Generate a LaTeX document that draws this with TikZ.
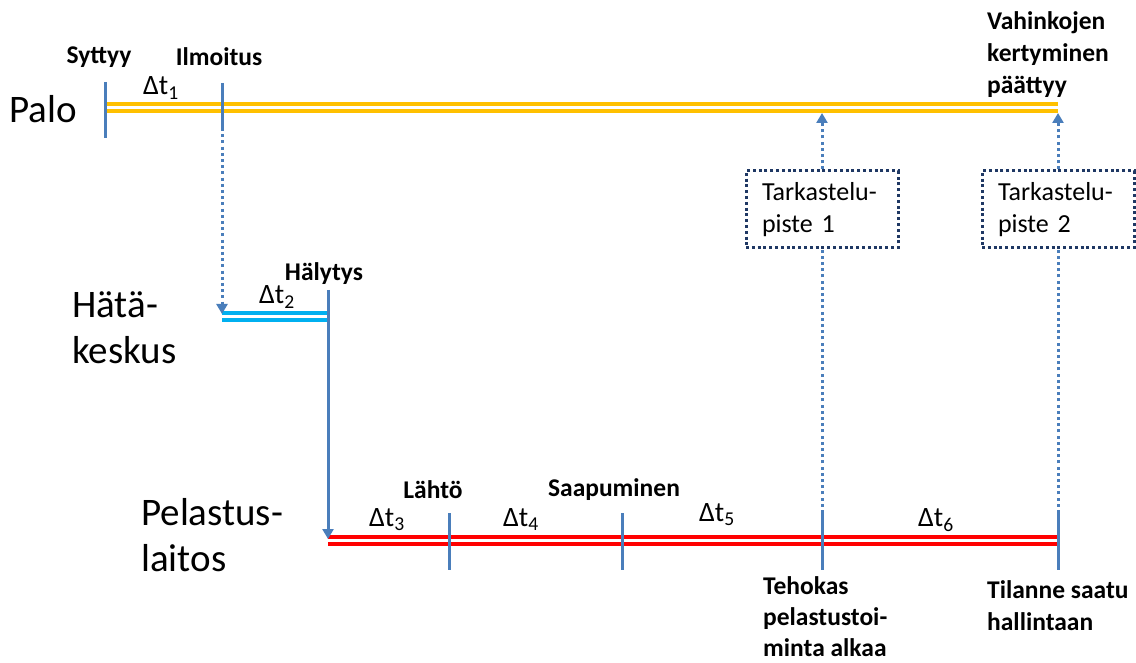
\documentclass[tikz,border=0pt]{standalone}
\usepackage{fontspec}
\setmainfont{Carlito}
\usetikzlibrary{arrows.meta}
\definecolor{ybar}{HTML}{FFC000}
\definecolor{bbar}{HTML}{00B0F0}
\definecolor{rbar}{HTML}{FF0000}
\definecolor{tickblue}{HTML}{4A7EBB}
\definecolor{navy}{HTML}{1F3864}
\begin{document}
\begin{tikzpicture}[x=1pt,y=-1pt,
  bar/.style={double=white, line width=3.6pt, double distance=3.4pt},
  tickln/.style={draw=tickblue, line width=3pt},
  dotln/.style={draw=tickblue, line width=3pt, dash pattern=on 3pt off 3.2pt},
  tipx/.style={-{Triangle[width=11pt,length=10pt]}},
  evt/.style={font=\fontsize{25.5}{32}\selectfont\bfseries, inner sep=0pt, align=left},
  rowlbl/.style={font=\fontsize{39}{46}\selectfont, inner sep=0pt, align=left, anchor=west},
  dt/.style={font=\fontsize{28}{30}\selectfont, inner sep=0pt},
  tbox/.style={draw=navy, line width=3pt, dash pattern=on 3pt off 2.8pt,
    minimum width=152pt, minimum height=77pt, text width=120pt, align=left,
    inner xsep=16pt, font=\fontsize{26}{32}\selectfont}]
\useasboundingbox (0,0) rectangle (1136,663);

% timelines
\coordinate (p0) at (107,107.5);
\coordinate (p1) at (1058,107.5);
\coordinate (h0) at (222,316.5);
\coordinate (h1) at (328,316.5);
\coordinate (r0) at (328,540.5);
\coordinate (r1) at (1058,540.5);
\draw[bar, draw=ybar] (p0) -- (p1);
\draw[bar, draw=bbar] (h0) -- (h1);
\draw[bar, draw=rbar] (r0) -- (r1);

% boxes
\node[tbox] (b1) at (822,209.5) {Tarkastelu-\\piste 1};
\node[tbox] (b2) at (1058,209.5) {Tarkastelu-\\piste 2};

% tick coordinates
\coordinate (sy1) at (105,82);  \coordinate (sy2) at (105,138);
\coordinate (il1) at (222,83);  \coordinate (il2) at (222,128);
\coordinate (ilend) at (222,314);
\coordinate (ha1) at (328,290); \coordinate (haend) at (328,539);
\coordinate (la1) at (449,513); \coordinate (la2) at (449,570);
\coordinate (sa1) at (622,513); \coordinate (sa2) at (622,570);
\coordinate (te1) at (822,513); \coordinate (te2) at (822,570);
\coordinate (ti1) at (1058,513); \coordinate (ti2) at (1058,570);
\coordinate (k1) at (822,113);
\coordinate (k2) at (1058,113);

\draw[tickln] (sy1) -- (sy2);
\draw[tickln] (il1) -- (il2);
\draw[dotln, tipx] (il2) -- (ilend);
\draw[tickln, tipx] (ha1) -- (haend);
\draw[tickln] (la1) -- (la2);
\draw[tickln] (sa1) -- (sa2);
\draw[tickln] (te1) -- (te2);
\draw[tickln] (ti1) -- (ti2);
\draw[dotln] (te1) -- (b1.south);
\draw[dotln] (ti1) -- (b2.south);
\draw[dotln, tipx] (b1.north) -- (k1);
\draw[dotln, tipx] (b2.north) -- (k2);

% row labels
\node[rowlbl] (palo) at (9,109) {Palo};
\node[rowlbl] (hk) at (72,328) {Hätä-\\keskus};
\node[rowlbl] (pl) at (141,535) {Pelastus-\\laitos};

% event labels
\node[evt] (lsy) at (99,57) {Syttyy};
\node[evt] (lil) at (219,57) {Ilmoitus};
\node[evt] (lha) at (324,274) {Hälytys};
\node[evt] (lla) at (433,490) {Lähtö};
\node[evt] (lsa) at (614,490) {Saapuminen};
\node[evt, anchor=west] (lva) at (987,55) {Vahinkojen\\kertyminen\\päättyy};
\node[evt, anchor=west, font=\fontsize{25.5}{31}\selectfont\bfseries] (lte) at (763,617) {Tehokas\\pelastustoi-\\minta alkaa};
\node[evt, anchor=west] (lti) at (987,606) {Tilanne saatu\\hallintaan};

% delta t labels
\node[dt] (d1) at (161,88) {Δt\textsubscript{1}};
\node[dt] (d2) at (277,297) {Δt\textsubscript{2}};
\node[dt] (d3) at (387,520) {Δt\textsubscript{3}};
\node[dt] (d4) at (521,520) {Δt\textsubscript{4}};
\node[dt] (d5) at (717,515) {Δt\textsubscript{5}};
\node[dt] (d6) at (936,520) {Δt\textsubscript{6}};
\end{tikzpicture}
\end{document}
